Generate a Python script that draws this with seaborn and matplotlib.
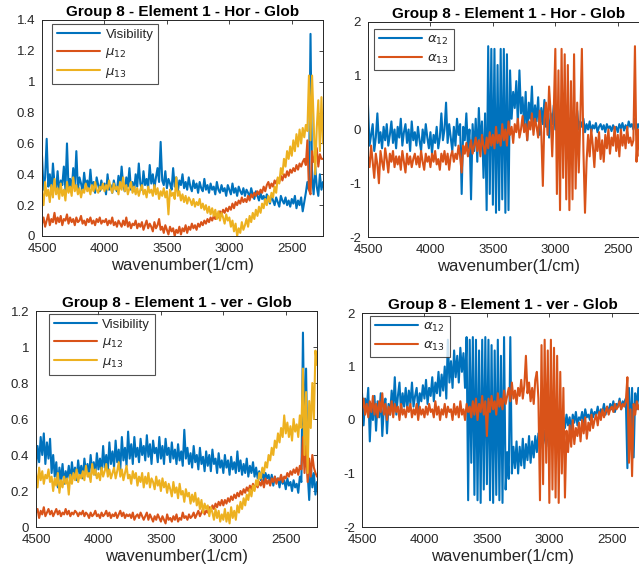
import numpy as np
import pandas as pd
import matplotlib
matplotlib.use("Agg")
import matplotlib.pyplot as plt
from matplotlib.ticker import FuncFormatter
import seaborn as sns

# Spectra sampled every 12.5 cm^-1 from 4500 down to 2250 cm^-1
WN_START, WN_END = 4500, 2250

# ---- horizontal polarisation ----
hor_visibility = [
    0.52, 0.30, 0.38, 0.63, 0.32, 0.40, 0.28, 0.47, 0.34, 0.30,
    0.42, 0.28, 0.36, 0.33, 0.45, 0.30, 0.60, 0.31, 0.37, 0.29,
    0.44, 0.33, 0.55, 0.30, 0.38, 0.34, 0.29, 0.41, 0.32, 0.36,
    0.30, 0.43, 0.31, 0.35, 0.28, 0.38, 0.33, 0.29, 0.36, 0.31,
    0.34, 0.27, 0.40, 0.30, 0.33, 0.28, 0.36, 0.31, 0.29, 0.39,
    0.31, 0.45, 0.33, 0.29, 0.38, 0.32, 0.44, 0.30, 0.35, 0.29,
    0.40, 0.32, 0.47, 0.34, 0.30, 0.42, 0.33, 0.37, 0.31, 0.46,
    0.34, 0.40, 0.31, 0.38, 0.44, 0.35, 0.61, 0.36, 0.33, 0.42,
    0.31, 0.37, 0.34, 0.30, 0.44, 0.32, 0.38, 0.29, 0.36, 0.33,
    0.40, 0.31, 0.35, 0.30, 0.38, 0.32, 0.29, 0.36, 0.31, 0.34,
    0.28, 0.35, 0.31, 0.29, 0.37, 0.30, 0.33, 0.28, 0.34, 0.30,
    0.32, 0.27, 0.35, 0.30, 0.28, 0.33, 0.29, 0.31, 0.26, 0.33,
    0.30, 0.27, 0.34, 0.28, 0.31, 0.26, 0.32, 0.29, 0.27, 0.31,
    0.26, 0.30, 0.28, 0.25, 0.31, 0.27, 0.24, 0.29, 0.26, 0.23,
    0.28, 0.24, 0.26, 0.22, 0.27, 0.25, 0.21, 0.26, 0.23, 0.20,
    0.25, 0.22, 0.19, 0.26, 0.23, 0.21, 0.25, 0.20, 0.23, 0.19,
    0.24, 0.21, 0.26, 0.18, 0.23, 0.20, 0.25, 0.16, 0.22, 0.28,
    0.35, 0.30, 1.31, 0.38, 0.27, 0.45, 0.32, 0.26, 0.40, 0.30,
    0.35]
hor_mu12 = [
    0.08, 0.12, 0.06, 0.10, 0.14, 0.07, 0.11, 0.09, 0.15, 0.08,
    0.12, 0.09, 0.13, 0.07, 0.11, 0.10, 0.14, 0.08, 0.12, 0.09,
    0.11, 0.07, 0.12, 0.09, 0.10, 0.13, 0.08, 0.10, 0.07, 0.11,
    0.09, 0.12, 0.08, 0.10, 0.07, 0.11, 0.09, 0.12, 0.08, 0.10,
    0.09, 0.11, 0.07, 0.10, 0.08, 0.12, 0.07, 0.09, 0.06, 0.10,
    0.08, 0.06, 0.10, 0.07, 0.12, 0.06, 0.09, 0.05, 0.08, 0.07,
    0.10, 0.05, 0.08, 0.06, 0.09, 0.04, 0.07, 0.10, 0.05, 0.08,
    0.06, 0.03, 0.09, 0.05, 0.07, 0.11, 0.04, 0.06, 0.02, 0.07,
    0.04, 0.01, 0.06, 0.03, 0.05, 0.00, 0.04, 0.02, 0.06, 0.01,
    0.05, 0.03, 0.07, 0.02, 0.06, 0.04, 0.08, 0.05, 0.07, 0.04,
    0.08, 0.06, 0.09, 0.07, 0.10, 0.08, 0.11, 0.09, 0.12, 0.10,
    0.13, 0.11, 0.14, 0.12, 0.16, 0.14, 0.17, 0.15, 0.18, 0.16,
    0.19, 0.17, 0.21, 0.18, 0.22, 0.20, 0.23, 0.21, 0.25, 0.22,
    0.24, 0.22, 0.26, 0.23, 0.27, 0.25, 0.28, 0.26, 0.29, 0.27,
    0.30, 0.28, 0.32, 0.29, 0.33, 0.35, 0.31, 0.34, 0.32, 0.36,
    0.34, 0.37, 0.35, 0.39, 0.36, 0.40, 0.38, 0.42, 0.39, 0.43,
    0.41, 0.44, 0.42, 0.46, 0.43, 0.47, 0.45, 0.48, 0.50, 0.46,
    0.62, 0.30, 0.27, 0.55, 0.48, 0.52, 0.57, 0.45, 0.53, 0.50,
    0.50]
hor_mu13 = [
    0.28, 0.20, 0.35, 0.26, 0.30, 0.22, 0.33, 0.25, 0.37, 0.27,
    0.31, 0.24, 0.34, 0.26, 0.30, 0.23, 0.35, 0.28, 0.32, 0.26,
    0.38, 0.29, 0.33, 0.27, 0.31, 0.25, 0.30, 0.28, 0.34, 0.29,
    0.31, 0.27, 0.33, 0.29, 0.35, 0.30, 0.28, 0.32, 0.30, 0.34,
    0.29, 0.33, 0.30, 0.36, 0.31, 0.28, 0.34, 0.30, 0.32, 0.27,
    0.35, 0.30, 0.38, 0.29, 0.33, 0.27, 0.31, 0.35, 0.28, 0.32,
    0.27, 0.31, 0.26, 0.30, 0.33, 0.27, 0.30, 0.25, 0.32, 0.28,
    0.30, 0.26, 0.33, 0.27, 0.31, 0.24, 0.29, 0.26, 0.31, 0.25,
    0.29, 0.14, 0.30, 0.26, 0.28, 0.24, 0.38, 0.26, 0.29, 0.23,
    0.27, 0.22, 0.26, 0.21, 0.25, 0.23, 0.20, 0.24, 0.19, 0.22,
    0.20, 0.24, 0.18, 0.21, 0.17, 0.20, 0.15, 0.19, 0.14, 0.18,
    0.13, 0.17, 0.11, 0.16, 0.10, 0.15, 0.12, 0.08, 0.14, 0.10,
    0.12, 0.06, 0.10, 0.03, 0.08, 0.00, 0.05, 0.02, 0.09, 0.04,
    0.07, 0.11, 0.06, 0.13, 0.09, 0.15, 0.11, 0.17, 0.13, 0.19,
    0.15, 0.21, 0.18, 0.24, 0.20, 0.26, 0.22, 0.28, 0.25, 0.32,
    0.28, 0.38, 0.34, 0.44, 0.40, 0.50, 0.45, 0.55, 0.50, 0.58,
    0.52, 0.62, 0.55, 0.66, 0.58, 0.69, 0.60, 0.70, 0.64, 0.72,
    0.68, 1.04, 0.62, 1.04, 0.75, 0.40, 0.70, 0.88, 0.55, 0.90,
    0.60]
hor_alpha12 = [
    0.45, -0.30, -0.10, 0.10, -0.40, -0.15, 0.30, -0.25, -0.05, -0.35,
    0.05, -0.20, 0.10, -0.30, -0.10, 0.15, -0.25, 0.00, -0.35, 0.05,
    -0.15, 0.20, -0.30, -0.05, 0.10, -0.25, 0.00, -0.40, 0.15, -0.20,
    -0.05, -0.30, 0.05, -0.20, -0.40, 0.00, -0.25, 0.10, -0.15, -0.35,
    -0.05, -0.45, -0.10, -0.25, 0.05, -0.35, -0.15, 0.30, -0.20, 0.00,
    0.50, -0.25, 0.10, -0.15, -0.40, 0.05, -0.30, 0.20, -0.10, 0.10,
    -1.20, 0.05, -0.20, 0.30, -0.35, 0.00, -1.30, 0.10, -0.40, 0.20,
    -0.60, 0.40, -0.30, 0.15, -0.90, 0.30, -1.50, 1.55, -1.20, 1.50,
    -1.40, 1.50, -1.55, 1.20, -1.50, 1.50, -1.30, 1.50, -1.55, 1.40,
    -1.50, 1.10, 0.20, 0.70, 0.40, 0.90, 0.10, 1.10, 0.30, 0.60,
    0.05, 0.70, -0.20, 0.50, 0.20, 0.80, 0.00, 0.45, 0.15, 0.60,
    -0.10, 0.40, 0.10, 0.55, 0.05, 0.35, -0.15, 0.30, 0.10, 0.45,
    0.00, 0.30, 0.10, 0.35, 0.05, 0.25, 0.15, 0.40, 0.00, 0.20,
    0.10, -0.05, 0.25, 0.05, 0.35, 0.00, 0.15, 0.05, 0.20, -0.05,
    0.10, 0.00, 0.15, -0.05, 0.08, 0.02, 0.12, -0.05, 0.05, 0.10,
    0.00, 0.08, -0.05, 0.10, 0.02, 0.06, -0.03, 0.08, 0.00, 0.05,
    -0.05, 0.10, 0.02, 0.12, -0.02, 0.08, 0.00, 0.15, 0.05, 0.10,
    0.00, 0.20, -0.10, 0.10, 0.05, -0.05, 0.15, 0.00, 0.08, -0.05,
    0.05]
hor_alpha13 = [
    -0.50, -0.70, -0.30, -0.60, -0.90, -0.45, -0.65, -1.00, -0.40, -0.60,
    -0.75, -0.35, -0.55, -0.80, -0.45, -0.60, -0.40, -0.70, -0.50, -0.65,
    -0.50, -0.75, -0.40, -0.60, -0.80, -0.45, -0.65, -0.50, -0.70, -0.55,
    -0.45, -0.65, -0.50, -0.70, -0.40, -0.60, -0.75, -0.45, -0.60, -0.50,
    -0.70, -0.45, -0.60, -0.40, -0.65, -0.55, -0.75, -0.45, -0.60, -0.40,
    -0.65, -0.45, -0.75, -0.50, -0.40, -0.60, -0.45, -0.55, -0.30, -0.50,
    -0.80, -0.30, -0.45, -0.25, -0.50, -0.35, -0.20, -0.45, -0.30, -0.15,
    -0.40, -0.20, -0.50, -0.10, -0.30, -0.45, -0.15, -0.35, -0.05, -0.30,
    -0.10, -0.35, 0.05, -0.25, -0.10, -0.30, 0.10, -0.20, 0.00, -0.30,
    0.15, -0.10, 0.05, -0.25, 0.10, -0.05, 0.20, -0.15, 0.00, 0.25,
    -0.05, 0.10, -0.20, 0.15, 0.00, 0.30, -0.10, 0.20, 0.05, -0.15,
    0.35, -0.05, -1.05, 0.20, 0.50, -0.10, 0.80, 0.30, -0.50, 0.35,
    1.50, -1.20, 1.10, -1.50, 1.50, -0.90, 1.40, -1.30, 1.20, -1.50,
    0.90, -1.30, 1.40, -1.10, 0.50, -0.80, 0.20, 1.50, -0.40, -1.55,
    -0.60, -0.10, -0.50, 0.00, -0.30, -0.70, -0.15, -0.40, -0.05, -0.55,
    -0.20, -0.60, -0.10, -0.35, 0.00, -0.45, -0.15, -0.30, 0.05, -0.40,
    -0.10, -0.50, 0.00, -0.30, -0.10, -0.35, 0.05, -0.25, -0.15, -0.30,
    -0.20, 1.55, -0.60, 0.00, -0.50, -0.10, -0.30, 0.00, -0.40, -0.10,
    -0.10]

# ---- vertical polarisation ----
ver_visibility = [
    0.33, 0.45, 0.36, 0.50, 0.40, 0.52, 0.35, 0.47, 0.38, 0.49,
    0.30, 0.40, 0.28, 0.36, 0.22, 0.33, 0.26, 0.35, 0.24, 0.31,
    0.27, 0.34, 0.25, 0.36, 0.28, 0.33, 0.26, 0.37, 0.29, 0.34,
    0.27, 0.38, 0.30, 0.35, 0.28, 0.40, 0.31, 0.36, 0.29, 0.41,
    0.32, 0.38, 0.30, 0.45, 0.33, 0.40, 0.31, 0.47, 0.35, 0.42,
    0.33, 0.48, 0.36, 0.43, 0.32, 0.50, 0.37, 0.44, 0.34, 0.53,
    0.38, 0.46, 0.35, 0.50, 0.39, 0.44, 0.36, 0.49, 0.40, 0.45,
    0.37, 0.51, 0.39, 0.46, 0.35, 0.48, 0.41, 0.44, 0.36, 0.50,
    0.38, 0.45, 0.35, 0.49, 0.40, 0.44, 0.36, 0.47, 0.38, 0.43,
    0.35, 0.46, 0.37, 0.42, 0.34, 0.54, 0.38, 0.44, 0.35, 0.41,
    0.33, 0.45, 0.36, 0.40, 0.32, 0.44, 0.35, 0.39, 0.31, 0.42,
    0.34, 0.40, 0.31, 0.43, 0.35, 0.38, 0.30, 0.41, 0.33, 0.37,
    0.30, 0.40, 0.33, 0.37, 0.29, 0.39, 0.32, 0.36, 0.30, 0.42,
    0.31, 0.37, 0.29, 0.35, 0.30, 0.38, 0.28, 0.34, 0.30, 0.36,
    0.28, 0.33, 0.27, 0.31, 0.26, 0.32, 0.25, 0.30, 0.27, 0.29,
    0.24, 0.29, 0.23, 0.28, 0.25, 0.27, 0.22, 0.28, 0.24, 0.26,
    0.21, 0.27, 0.23, 0.25, 0.20, 0.26, 0.22, 0.24, 0.19, 0.28,
    0.25, 1.08, 0.45, 0.88, 0.30, 0.15, 0.35, 0.22, 0.30, 0.18,
    0.25]
ver_mu12 = [
    0.08, 0.10, 0.05, 0.09, 0.07, 0.11, 0.06, 0.08, 0.10, 0.07,
    0.09, 0.06, 0.08, 0.10, 0.07, 0.09, 0.06, 0.08, 0.07, 0.10,
    0.07, 0.09, 0.06, 0.08, 0.07, 0.09, 0.08, 0.06, 0.08, 0.07,
    0.09, 0.06, 0.08, 0.07, 0.05, 0.08, 0.06, 0.07, 0.09, 0.06,
    0.07, 0.05, 0.08, 0.06, 0.07, 0.09, 0.06, 0.08, 0.05, 0.07,
    0.06, 0.08, 0.05, 0.07, 0.09, 0.06, 0.08, 0.05, 0.07, 0.06,
    0.07, 0.05, 0.08, 0.04, 0.06, 0.07, 0.05, 0.08, 0.06, 0.04,
    0.06, 0.08, 0.04, 0.07, 0.05, 0.03, 0.06, 0.04, 0.07, 0.05,
    0.03, 0.06, 0.04, 0.02, 0.07, 0.04, 0.05, 0.03, 0.06, 0.04,
    0.07, 0.03, 0.05, 0.04, 0.08, 0.05, 0.06, 0.04, 0.07, 0.05,
    0.06, 0.08, 0.05, 0.07, 0.09, 0.06, 0.08, 0.10, 0.07, 0.09,
    0.08, 0.11, 0.09, 0.12, 0.10, 0.13, 0.11, 0.14, 0.12, 0.15,
    0.12, 0.15, 0.13, 0.16, 0.14, 0.17, 0.15, 0.18, 0.16, 0.19,
    0.17, 0.20, 0.18, 0.21, 0.19, 0.22, 0.20, 0.23, 0.21, 0.24,
    0.21, 0.24, 0.22, 0.25, 0.23, 0.26, 0.22, 0.27, 0.24, 0.26,
    0.23, 0.27, 0.25, 0.28, 0.24, 0.27, 0.26, 0.29, 0.25, 0.28,
    0.27, 0.30, 0.28, 0.31, 0.29, 0.32, 0.30, 0.33, 0.29, 0.34,
    0.32, 0.50, 0.30, 0.45, 0.25, 0.38, 0.28, 0.40, 0.33, 0.30,
    0.28]
ver_mu13 = [
    0.30, 0.22, 0.33, 0.26, 0.31, 0.24, 0.29, 0.27, 0.32, 0.25,
    0.28, 0.20, 0.27, 0.23, 0.30, 0.19, 0.26, 0.22, 0.28, 0.24,
    0.27, 0.18, 0.29, 0.24, 0.30, 0.26, 0.32, 0.25, 0.29, 0.27,
    0.31, 0.26, 0.34, 0.28, 0.30, 0.25, 0.35, 0.29, 0.32, 0.27,
    0.30, 0.26, 0.33, 0.28, 0.31, 0.35, 0.28, 0.32, 0.27, 0.30,
    0.33, 0.27, 0.31, 0.36, 0.28, 0.32, 0.26, 0.30, 0.34, 0.27,
    0.29, 0.24, 0.31, 0.27, 0.30, 0.23, 0.28, 0.25, 0.30, 0.22,
    0.28, 0.24, 0.30, 0.22, 0.27, 0.25, 0.21, 0.28, 0.23, 0.26,
    0.20, 0.27, 0.22, 0.25, 0.19, 0.24, 0.21, 0.17, 0.25, 0.19,
    0.22, 0.16, 0.24, 0.18, 0.20, 0.14, 0.21, 0.17, 0.19, 0.13,
    0.18, 0.14, 0.19, 0.12, 0.16, 0.10, 0.15, 0.08, 0.13, 0.10,
    0.12, 0.06, 0.11, 0.08, 0.04, 0.10, 0.05, 0.09, 0.03, 0.07,
    0.04, 0.10, 0.03, 0.08, 0.02, 0.11, 0.05, 0.09, 0.04, 0.12,
    0.08, 0.14, 0.10, 0.16, 0.12, 0.18, 0.15, 0.21, 0.17, 0.23,
    0.20, 0.26, 0.23, 0.30, 0.27, 0.33, 0.30, 0.36, 0.33, 0.40,
    0.37, 0.44, 0.40, 0.48, 0.44, 0.52, 0.47, 0.55, 0.50, 0.62,
    0.52, 0.58, 0.50, 0.56, 0.48, 0.60, 0.53, 0.57, 0.50, 0.62,
    0.55, 0.88, 0.40, 0.75, 0.30, 0.70, 0.55, 0.80, 0.60, 0.98,
    0.90]
ver_alpha12 = [
    0.50, -0.10, 0.40, 0.20, 0.60, -0.40, 0.30, 0.00, 0.45, -0.20,
    0.35, 0.05, 0.50, -0.30, 0.25, 0.40, -0.25, 0.30, 0.10, 0.55,
    0.20, 0.80, 0.10, 0.45, 0.70, 0.15, 0.50, 0.25, 0.60, 0.20,
    0.55, 0.30, 0.70, 0.25, 0.45, 0.60, 0.20, 0.50, 0.35, 0.65,
    0.40, 0.75, 0.30, 0.60, 0.45, 0.80, 0.35, 0.70, 0.50, 0.90,
    0.45, 0.85, 0.55, 1.00, 0.40, 1.50, 0.70, 1.10, 0.60, 1.30,
    0.80, 1.20, 0.70, 1.35, 0.90, 1.25, 0.60, 1.55, -1.50, 1.50,
    -0.80, 1.55, -1.40, 1.50, -1.50, 1.30, -1.55, 1.50, -1.30, 1.55,
    -1.20, 1.50, -1.50, 1.40, -1.55, 1.30, -1.40, 1.50, -1.50, 1.20,
    -1.55, 1.55, -1.30, -0.60, -1.10, 1.55, -1.00, -0.50, -0.90, -0.40,
    -1.00, -0.50, -0.85, -0.35, -0.90, -0.45, -0.75, -0.30, -0.80, -0.40,
    -0.70, -0.30, -0.60, -0.25, -0.55, -0.35, -0.45, -0.20, -0.50, -0.25,
    -0.40, -0.15, -0.35, -0.10, -0.30, 0.00, -0.25, -0.05, -0.20, 0.05,
    -0.15, 0.10, -0.10, 0.05, -0.20, 0.10, -0.05, 0.15, -0.10, 0.05,
    0.00, 0.15, -0.05, 0.20, 0.05, 0.10, 0.00, 0.20, 0.05, 0.15,
    0.10, 0.25, 0.05, 0.20, 0.15, 0.30, 0.10, 0.25, 0.15, 0.30,
    0.20, 0.35, 0.15, 0.30, 0.25, 0.40, 0.20, 0.35, 0.30, 0.40,
    -0.90, 0.60, -0.30, 0.60, -0.70, 0.50, 0.20, 0.60, 0.30, 0.40,
    0.40]
ver_alpha13 = [
    0.20, 0.40, 0.10, 0.30, 0.05, 0.35, 0.15, 0.45, 0.10, 0.30,
    0.05, 0.35, 0.15, 0.50, 0.10, 0.30, 0.00, 0.25, 0.10, 0.35,
    0.05, 0.30, 0.15, 0.25, 0.00, 0.30, 0.10, 0.20, 0.05, 0.25,
    0.15, 0.30, 0.05, 0.20, 0.10, 0.30, 0.00, 0.25, 0.10, 0.20,
    0.05, 0.25, 0.10, 0.30, 0.15, 0.20, 0.05, 0.35, 0.10, 0.25,
    0.00, 0.20, 0.10, 0.30, 0.05, 0.25, 0.15, 0.20, 0.00, 0.30,
    0.10, 0.25, 0.05, 0.35, 0.10, 0.20, 0.00, 0.30, 0.15, 0.25,
    0.05, 0.35, 0.10, 0.40, 0.00, 0.30, 0.15, 0.45, 0.10, 0.35,
    -0.30, 0.40, 0.15, 0.45, 0.20, 0.35, 0.10, 0.50, 0.25, 0.40,
    0.20, 0.55, 0.30, 0.45, 0.60, 0.35, 0.70, 0.40, 0.55, 0.30,
    0.60, 0.45, 0.75, 0.40, 0.65, 1.20, 0.50, 0.70, 0.35, 0.60,
    0.30, 0.75, 0.90, 0.40, -1.50, 1.40, -1.20, 1.50, -0.80, 1.30,
    -1.55, 1.50, -1.30, 1.35, -1.45, 1.20, -1.55, 0.90, -1.00, 0.60,
    -1.45, -0.20, -0.60, -0.10, -0.50, 0.00, -0.45, -0.15, -0.30, -0.05,
    -0.40, 0.00, -0.25, 0.05, -0.35, -0.05, -0.20, 0.10, -0.15, 0.00,
    0.10, -0.10, 0.15, 0.00, 0.20, 0.05, 0.15, 0.25, 0.10, 0.20,
    0.25, 0.15, 0.30, 0.20, 0.25, 0.35, 0.20, 0.30, 0.25, 0.35,
    0.80, -0.80, 0.20, -1.05, 0.30, 0.10, 0.35, 0.20, 0.30, 0.15,
    0.30]

titles = ["Group 8 - Element 1 - Hor - Glob",
          "Group 8 - Element 1 - ver - Glob"]
xlabel = "wavenumber(1/cm)"
mu_labels = ["Visibility", r"$\mu_{12}$", r"$\mu_{13}$"]
alpha_labels = [r"$\alpha_{12}$", r"$\alpha_{13}$"]

BLUE, ORANGE, YELLOW = "#0072BD", "#D95319", "#EDB120"
INK = "#262626"

sns.set_theme(style="white")
plt.rcParams["font.family"] = ["Liberation Sans", "DejaVu Sans"]
plt.rcParams["mathtext.fontset"] = "dejavusans"

W, H = 639, 573
fig = plt.figure(figsize=(W / 100, H / 100), dpi=100)


def box(l, r, t, b):
    return [l / W, (H - b) / H, (r - l) / W, (b - t) / H]


def style(ax, ylim, yticks, title, leg_px):
    ax.set_xlim(WN_START, WN_END)
    ax.set_ylim(*ylim)
    ax.set_xticks([4500, 4000, 3500, 3000, 2500])
    ax.set_yticks(yticks)
    ax.yaxis.set_major_formatter(FuncFormatter(lambda v, p: f"{v:g}"))
    ax.tick_params(direction="in", length=3, width=0.6, top=True, right=True,
                   labelsize=9.5, colors=INK)
    ax.tick_params(axis="x", pad=5)
    ax.tick_params(axis="y", pad=5)
    for s in ax.spines.values():
        s.set_color(INK)
        s.set_linewidth(0.7)
    ax.set_title(title, fontsize=11, fontweight="bold", color="black", pad=3)
    ax.set_xlabel(xlabel, fontsize=12, color=INK, labelpad=2)
    ax.set_ylabel("")
    bb = ax.get_position()
    ax_w, ax_h = bb.width * W, bb.height * H
    dx, dy = leg_px
    leg = ax.legend(loc="upper left", fontsize=9.5, handlelength=3.3,
                    frameon=True, fancybox=False, borderpad=0.35,
                    labelspacing=0.4, handletextpad=0.4, borderaxespad=0,
                    bbox_to_anchor=(dx / ax_w, 1 - dy / ax_h))
    leg.get_frame().set_edgecolor(INK)
    leg.get_frame().set_linewidth(0.8)


panels = [
    (box(42, 323, 20, 236), [hor_visibility, hor_mu12, hor_mu13], mu_labels,
     [BLUE, ORANGE, YELLOW], (0, 1.4), np.arange(0, 1.41, 0.2), titles[0], (10, 4)),
    (box(368, 649, 22, 237), [hor_alpha12, hor_alpha13], alpha_labels,
     [BLUE, ORANGE], (-2, 2), [-2, -1, 0, 1, 2], titles[0], (6, 7)),
    (box(36, 317, 311, 527), [ver_visibility, ver_mu12, ver_mu13], mu_labels,
     [BLUE, ORANGE, YELLOW], (0, 1.2), np.arange(0, 1.21, 0.2), titles[1], (13, 3)),
    (box(362, 643, 313, 527), [ver_alpha12, ver_alpha13], alpha_labels,
     [BLUE, ORANGE], (-2, 2), [-2, -1, 0, 1, 2], titles[1], (8, 3)),
]

for rect, series, labels, colors, ylim, yticks, title, leg_px in panels:
    ax = fig.add_axes(rect)
    for vals, lab, col in zip(series, labels, colors):
        wn = np.linspace(WN_START, WN_END, len(vals))
        df = pd.DataFrame({"wavenumber": wn, "value": vals})
        sns.lineplot(data=df, x="wavenumber", y="value", ax=ax, color=col,
                     linewidth=1.5, label=lab)
    style(ax, ylim, yticks, title, leg_px)

fig.savefig("out.png", dpi=100)
